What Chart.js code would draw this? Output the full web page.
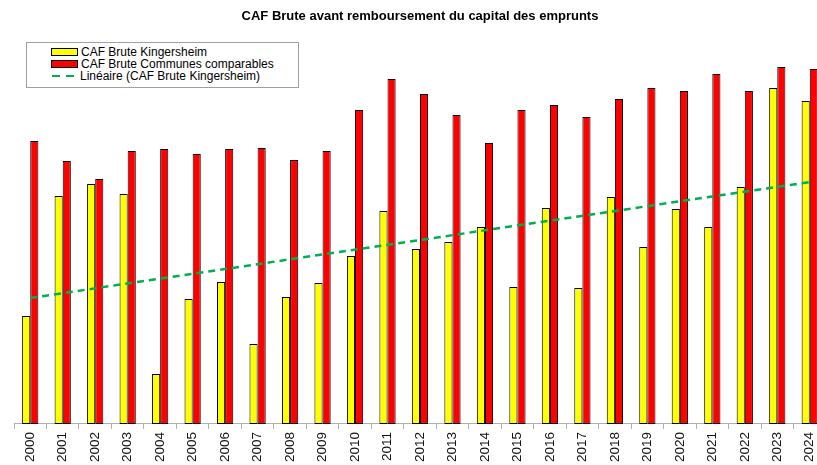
<!DOCTYPE html>
<html>
<head>
<meta charset="utf-8">
<script src="https://cdn.jsdelivr.net/npm/chart.js@4"></script>
<style>
  html, body { margin: 0; padding: 0; background: #fff; overflow: hidden; }
  #wrap { position: relative; width: 830px; height: 465px; }
  #titre {
    position: absolute; left: 0; top: 8px; width: 840px; text-align: center;
    font: bold 13px "Liberation Sans", Arial, sans-serif; color: #000;
  }
  #legende {
    position: absolute; left: 26px; top: 42px; width: 271px; height: 44px;
    border: 1px solid #a0a0a0; background: #fff;
    font: 12px "Liberation Sans", Arial, sans-serif; color: #000;
  }
  .ligne { position: absolute; left: 24px; height: 12px; line-height: 12px; white-space: nowrap; }
  .carre { display: inline-block; width: 25px; height: 6px; border: 1px solid #000; vertical-align: middle; margin-right: 3px; position: relative; top: -1px; }
  .tiret { display: inline-block; width: 8px; height: 0; border-top: 2px solid #00b050; vertical-align: middle; position: relative; top: -1px; }
</style>
</head>
<body>
<div id="wrap">
  <canvas id="graphique" width="830" height="465"></canvas>
  <div id="titre">CAF Brute avant remboursement du capital des emprunts</div>
  <div id="legende">
    <div class="ligne" style="top:3px"><span class="carre" style="background:#ffff00"></span>CAF Brute Kingersheim</div>
    <div class="ligne" style="top:15px"><span class="carre" style="background:#ff0000"></span>CAF Brute Communes comparables</div>
    <div class="ligne" style="top:27px"><span class="tiret" style="margin-left:1px;margin-right:6px"></span><span class="tiret" style="margin-right:6px"></span>Linéaire (CAF Brute Kingersheim)</div>
  </div>
</div>
<script>
  // annees
  var annees = ['2000','2001','2002','2003','2004','2005','2006','2007','2008','2009','2010','2011','2012',
                '2013','2014','2015','2016','2017','2018','2019','2020','2021','2022','2023','2024'];

  // valeurs (pas d'axe, unites arbitraires)
  var cafKingersheim = [108, 228, 240, 230, 50, 125, 142, 80, 127, 141, 168, 213, 175,
                        182, 197, 137, 216, 136, 227, 177, 215, 197, 237, 336, 323];
  var cafComparables = [283, 263, 245, 273, 275, 270, 275, 276, 264, 273, 314, 345, 330,
                        309, 281, 314, 319, 307, 325, 336, 333, 350, 333, 357, 355];

  // tendance lineaire : debut et fin
  var tendanceDebut = 126;
  var tendanceFin = 242;

  Chart.defaults.font.family = '"Liberation Sans", Arial, sans-serif';

  var lienzo = document.getElementById('graphique').getContext('2d');

  var graphique = new Chart(lienzo, {
    type: 'bar',
    data: {
      labels: annees,
      datasets: [
        {
          label: 'CAF Brute Kingersheim',
          data: cafKingersheim,
          backgroundColor: '#ffff00',
          borderColor: '#000000',
          borderWidth: 1,
          borderSkipped: false,
          order: 1
        },
        {
          label: 'CAF Brute Communes comparables',
          data: cafComparables,
          backgroundColor: '#ff0000',
          borderColor: '#000000',
          borderWidth: 1,
          borderSkipped: false,
          order: 1
        },
        {
          type: 'line',
          label: 'Linéaire (CAF Brute Kingersheim)',
          data: [{x: annees[0], y: tendanceDebut}, {x: annees[annees.length - 1], y: tendanceFin}],
          borderColor: '#00b050',
          borderWidth: 2.5,
          borderDash: [7, 5],
          pointRadius: 0,
          fill: false,
          order: 0
        }
      ]
    },
    options: {
      responsive: false,
      animation: false,
      layout: { padding: { top: 24, left: 14, right: 4, bottom: 0 } },
      datasets: { bar: { categoryPercentage: 0.5, barPercentage: 1 } },
      plugins: {
        legend: { display: false },
        title: { display: false },
        tooltip: { enabled: false }
      },
      scales: {
        x: {
          grid: { display: true, drawOnChartArea: false, offset: true, tickLength: 5, color: '#b0b0b0' },
          border: { color: '#b0b0b0' },
          ticks: { minRotation: 90, maxRotation: 90, color: '#111', font: { size: 13.5 }, padding: 3 }
        },
        y: {
          display: false,
          min: 0,
          max: 400
        }
      }
    }
  });
</script>
</body>
</html>
